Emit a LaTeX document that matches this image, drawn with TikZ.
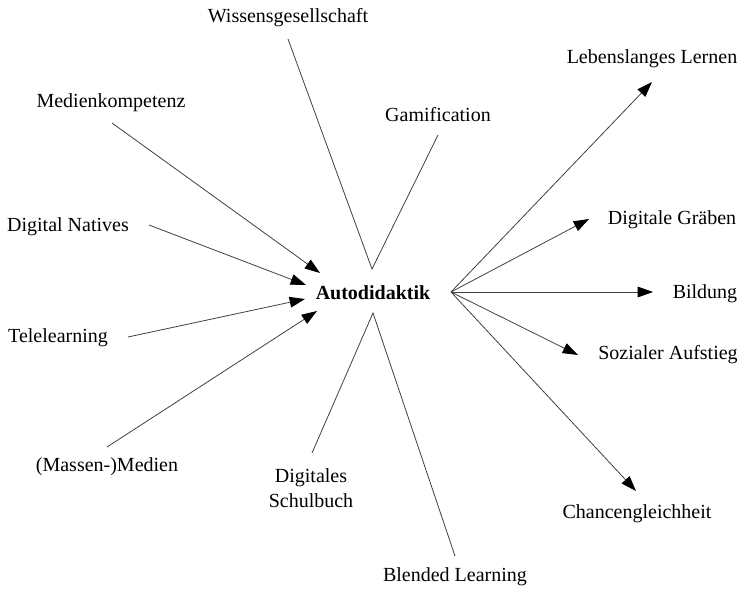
\documentclass[tikz,border=0pt]{standalone}
\usepackage{fontspec}
\setmainfont{Liberation Serif}
\usetikzlibrary{arrows.meta}
\begin{document}
\begin{tikzpicture}[x=0.75pt,y=-0.75pt,
  lbl/.style={inner sep=0pt,font=\fontsize{15}{18.75}\selectfont,align=center},
  link/.style={draw=black!75,line width=0.6pt},
  arr/.style={link,-{Triangle[length=11.5pt,width=8pt,color=black,fill=black]}}]
\useasboundingbox (0,0) rectangle (741,590);

% central concept
\node[lbl,font=\fontsize{15}{18.75}\selectfont\bfseries] (core) at (373,293) {Autodidaktik};
\coordinate (hubT) at (372,269);
\coordinate (hubB) at (373,313);
\coordinate (hubR) at (451,292);

% terms around it
\node[lbl] (wiss)  at (288,18)  {Wissensgesellschaft};
\node[lbl] (gami)  at (438,115) {Gamification};
\node[lbl] (medk)  at (111,103) {Medienkompetenz};
\node[lbl] (dnat)  at (68,227)  {Digital Natives};
\node[lbl] (tele)  at (58,338)  {Telelearning};
\node[lbl] (mass)  at (107,467) {(Massen-)Medien};
\node[lbl] (schul) at (311,488) {Digitales\\Schulbuch};
\node[lbl] (blend) at (455,577) {Blended Learning};
\node[lbl] (leben) at (652,59)  {Lebenslanges Lernen};
\node[lbl] (grab)  at (672,220) {Digitale Gräben};
\node[lbl] (bild)  at (705,294) {Bildung};
\node[lbl] (sozi)  at (668,355) {Sozialer Aufstieg};
\node[lbl] (chan)  at (637,514) {Chancengleichheit};

% connector end points next to the terms
\coordinate (wissE)  at (288,39);
\coordinate (gamiE)  at (438,135);
\coordinate (medkE)  at (112,123);
\coordinate (dnatE)  at (149,225);
\coordinate (teleE)  at (128,337);
\coordinate (massE)  at (107,447);
\coordinate (schulE) at (312,453);
\coordinate (blendE) at (455,556);
\coordinate (lebenE) at (652,82);
\coordinate (grabE)  at (589,219);
\coordinate (bildE)  at (653,292);
\coordinate (soziE)  at (578,355);
\coordinate (chanE)  at (636,491);

% arrow tips in front of the central concept
\coordinate (inA) at (320,273);
\coordinate (inB) at (306,285);
\coordinate (inC) at (305,299);
\coordinate (inD) at (317,311);

% plain links
\draw[link] (wissE) -- (hubT) -- (gamiE);
\draw[link] (schulE) -- (hubB) -- (blendE);

% incoming arrows
\draw[arr] (medkE) -- (inA);
\draw[arr] (dnatE) -- (inB);
\draw[arr] (teleE) -- (inC);
\draw[arr] (massE) -- (inD);

% outgoing arrows
\draw[arr] (hubR) -- (lebenE);
\draw[arr] (hubR) -- (grabE);
\draw[arr] (hubR) -- (bildE);
\draw[arr] (hubR) -- (soziE);
\draw[arr] (hubR) -- (chanE);
\end{tikzpicture}
\end{document}
